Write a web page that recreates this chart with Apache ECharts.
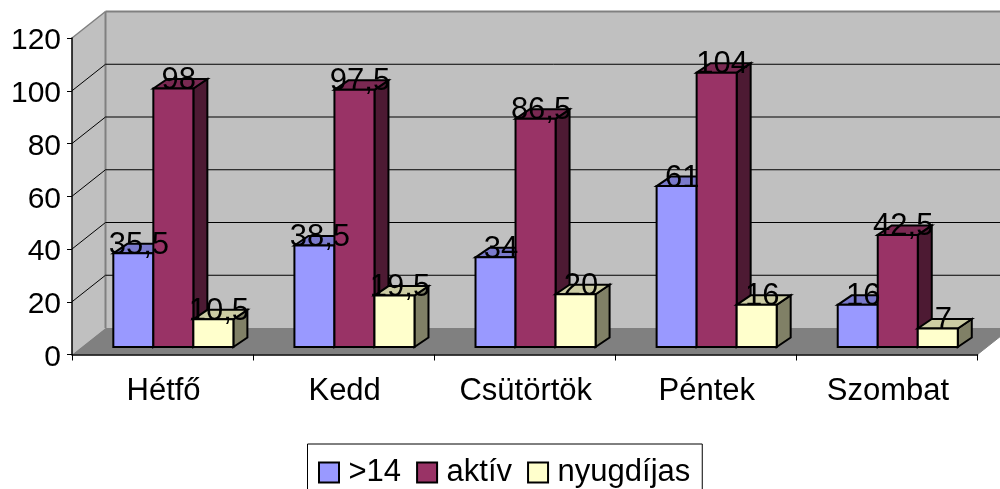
<!DOCTYPE html>
<html><head><meta charset="utf-8">
<style>html,body{margin:0;padding:0;background:#fff;overflow:hidden}#c{width:1000px;height:489px}</style>
<script src="https://cdn.jsdelivr.net/npm/echarts@6/dist/echarts.min.js"></script>
</head><body><div id="c"></div>
<script>
const categories = ['Hétfő','Kedd','Csütörtök','Péntek','Szombat'];
const seriesNames = ['>14','aktív','nyugdíjas'];
const under14 = [35.5,38.5,34,61,16];
const active = [98,97.5,86.5,104,42.5];
const retired = [10.5,19.5,20,16,7];
const yTicks = [0,20,40,60,80,100,120];
const faces = [
  {front:'#9999FF',top:'#7A7ACC',side:'#4D4D80'},
  {front:'#993366',top:'#7A2952',side:'#4D1A33'},
  {front:'#FFFFCC',top:'#CCCCA3',side:'#808066'}
];
const FONT = '"Liberation Sans", Arial, sans-serif';
const FS = 31;
const wallDx = 33.5, wallDy = 26.5;
const barDx = 14, barDy = 9.5, liftY = 7.5, shiftX = 10.8, barShare = 40/181;

function poly(pts, fill, stroke, lw, z2){
  return {type:'polygon', z2:z2||0, shape:{points:pts}, style:{fill:fill, stroke:stroke||null, lineWidth:lw||0, lineJoin:'miter'}};
}
function line(a,b,color,lw,z2){
  return {type:'line', z2:z2||0, shape:{x1:a[0],y1:a[1],x2:b[0],y2:b[1]}, style:{stroke:color, lineWidth:lw, fill:null}};
}
function renderWalls(params, api){
  const g = params.coordSys, v = api.value(0), y = api.coord([0,v])[1];
  const L = g.x, R = g.x+g.width, B = g.y+g.height, T = g.y;
  const kids = [];
  if(params.dataIndex===0){
    kids.push(poly([[L+wallDx,T-wallDy],[R+wallDx,T-wallDy],[R+wallDx,B-wallDy],[L+wallDx,B-wallDy]],'#C0C0C0',null,0,0));
    kids.push(poly([[L,T],[L+wallDx,T-wallDy],[L+wallDx,B-wallDy],[L,B]],'#C0C0C0',null,0,0));
    kids.push(poly([[L,B],[L+wallDx,B-wallDy],[R+wallDx,B-wallDy],[R,B]],'#808080',null,0,1));
    kids.push(line([L+wallDx,T-wallDy],[L+wallDx,B-wallDy],'#808080',2,2));
    kids.push(line([L+wallDx,T-wallDy],[R+wallDx,T-wallDy],'#808080',2,2));
    kids.push(line([L,T],[L+wallDx,T-wallDy],'#808080',1.5,2));
    kids.push(line([R,B],[R+wallDx,B-wallDy],'#808080',1,2));
  } else if(v<yTicks[yTicks.length-1]){
    kids.push(line([L,y],[L+wallDx,y-wallDy],'#000',1,3));
    kids.push(line([L+wallDx,y-wallDy],[R+wallDx,y-wallDy],'#000',1,3));
  }
  return {type:'group', children:kids};
}
function barRenderer(idx){
  return function(params, api){
    const cat = api.value(0), v = api.value(1);
    const base = api.coord([cat,0]), top = api.coord([cat,v]);
    const w = api.size([1,0])[0]*barShare;
    const x0 = base[0]+shiftX-1.5*w+idx*w, x1 = x0+w;
    const yB = base[1]-liftY, yT = top[1]-liftY;
    const z = 10+idx*3;
    const st = '#000';
    return {type:'group', children:[
      poly([[x1,yB],[x1+barDx,yB-barDy],[x1+barDx,yT-barDy],[x1,yT]],faces[idx].side,st,2,z),
      poly([[x0,yT],[x0+barDx,yT-barDy],[x1+barDx,yT-barDy],[x1,yT]],faces[idx].top,st,2,z+1),
      poly([[x0,yB],[x1,yB],[x1,yT],[x0,yT]],faces[idx].front,st,2,z+2),
      {type:'text', z2:100, style:{
        x:x0+w/2+5.5, y:yT-8, text:String(v).replace('.',','),
        fill:'#000', font:FS+'px '+FONT, align:'center', verticalAlign:'middle'}}
    ]};
  };
}
const values = [under14, active, retired];
const chart = echarts.init(document.getElementById('c'), null, {renderer:'canvas'});
chart.setOption({
  animation:false,
  backgroundColor:'#fff',
  grid:{left:72,right:22.5,top:38,bottom:134.5,containLabel:false,outerBoundsMode:'none'},
  xAxis:{type:'category',data:categories,z:1,
    axisLine:{show:true,lineStyle:{color:'#000',width:1.5}},
    axisTick:{show:true,length:6,lineStyle:{color:'#000',width:1}},
    axisLabel:{interval:0,hideOverlap:false,color:'#000',fontFamily:FONT,fontSize:FS,margin:21,padding:[0,0,0,2]},
    splitLine:{show:false}},
  yAxis:{type:'value',min:0,max:120,interval:20,z:1,
    axisLine:{show:true,lineStyle:{color:'#000',width:1.5}},
    axisTick:{show:true,length:5,lineStyle:{color:'#000',width:1}},
    axisLabel:{color:'#000',fontFamily:FONT,fontSize:FS-1,margin:11,formatter:'{a|{value}}',
      rich:{a:{color:'#000',fontFamily:FONT,fontSize:FS-1,padding:[6,0,0,0]}}},
    splitLine:{show:false}},
  legend:{
    left:307.5,top:444,orient:'horizontal',
    padding:[13,12,10,10.5],itemGap:15,itemWidth:20,itemHeight:20,
    backgroundColor:'#fff',borderColor:'#000',borderWidth:1,
    selectedMode:false,
    textStyle:{color:'#000',fontFamily:FONT,fontSize:31,padding:[0,0,0,4.5]},
    data:seriesNames.map((n,i)=>({name:n,icon:'rect',itemStyle:{color:faces[i].front,borderColor:'#000',borderWidth:2}}))
  },
  series:[
    {type:'custom',name:'walls',z:0,silent:true,coordinateSystem:'cartesian2d',renderItem:renderWalls,
     data:yTicks.map(v=>[v]),encode:{y:0}},
    ...seriesNames.map((n,i)=>({
      type:'custom',name:n,z:2,coordinateSystem:'cartesian2d',renderItem:barRenderer(i),
      itemStyle:{color:faces[i].front},
      encode:{x:0,y:1},
      data:categories.map((c,k)=>[k,values[i][k]])
    }))
  ]
});
</script></body></html>
